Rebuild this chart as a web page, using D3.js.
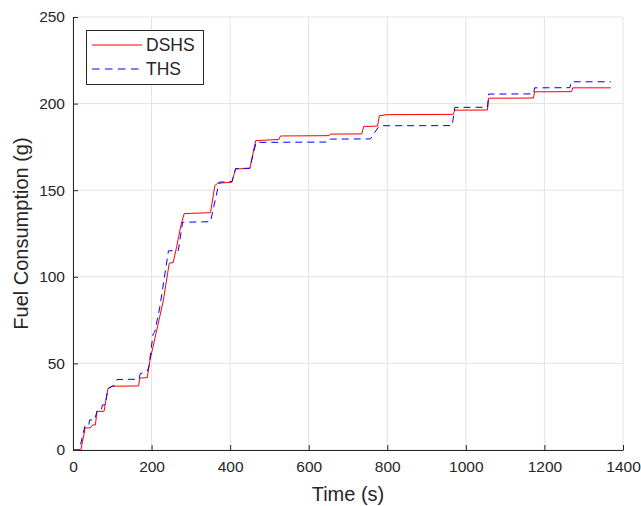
<!DOCTYPE html>
<html>
<head>
<meta charset="utf-8">
<script src="https://cdn.jsdelivr.net/npm/d3@7"></script>
<style>
  body { margin: 0; background: #fff; }
  text { font-family: "Liberation Sans", Arial, sans-serif; fill: #262626; }
</style>
</head>
<body>
<div id="chart"></div>
<script>
// DSHS fuel consumption, [time (s), fuel (g)]
const dshsData = [
  [0, 0], [20, 0], [31, 12.7], [45, 12.9], [50, 14.5], [57, 14.5], [61, 22.3], [79, 22.3],
  [89, 35.5], [100, 36.8], [167, 37], [170, 41.5], [189, 41.8], [196, 51.8], [213, 69],
  [230, 86.4], [245, 107.9], [255, 108.2], [264, 117.5], [275, 130], [283, 136.5], [350, 137],
  [361, 152.6], [368, 154], [404, 154.6], [414, 162.3], [450, 162.5], [465, 178.6], [524, 179.3],
  [528, 181.3], [652, 181.5], [655, 182.4], [735, 182.5], [740, 186.8], [775, 187], [780, 193],
  [800, 193.6], [968, 193.8], [972, 196.2], [1055, 196.3], [1058, 203.1], [1172, 203.2],
  [1175, 206.8], [1269, 206.9], [1272, 209.1], [1369, 209.1]
];

// THS fuel consumption, [time (s), fuel (g)]
const thsData = [
  [0, 0], [16, 0], [30, 13.6], [40, 13.8], [42, 17.3], [55, 17.5], [62, 23], [72, 23.2],
  [75, 26], [82, 26.2], [89, 35.5], [105, 37.4], [112, 40.7], [168, 40.9], [171, 44],
  [189, 45.5], [193, 48], [204, 67.2], [208, 68], [221, 82.5], [243, 115], [268, 115.2],
  [279, 131.5], [350, 131.8], [372, 154.6], [405, 155], [414, 162.5], [450, 162.7],
  [466, 177.6], [650, 177.8], [655, 179.5], [757, 179.6], [776, 186], [783, 187.2],
  [965, 187.3], [972, 197.8], [1055, 197.9], [1058, 205.5], [1172, 205.6], [1175, 209.1],
  [1265, 209.2], [1268, 212.6], [1369, 212.6]
];

const xTicks = [0, 200, 400, 600, 800, 1000, 1200, 1400];
const yTicks = [0, 50, 100, 150, 200, 250];
const seriesNames = ["DSHS", "THS"];

let width = 641;
let height = 506;
let margin = { top: 17, right: 18, bottom: 56, left: 73 };

let svg = d3.select("#chart")
  .append("svg")
  .attr("width", width)
  .attr("height", height);

let xScale = d3.scaleLinear()
  .domain([0, 1400])
  .range([margin.left, width - margin.right]);

let yScale = d3.scaleLinear()
  .domain([0, 250])
  .range([height - margin.bottom, margin.top]);

// grid
svg.append("g")
  .selectAll("line")
  .data(xTicks)
  .join("line")
  .attr("x1", d => xScale(d)).attr("x2", d => xScale(d))
  .attr("y1", yScale(0)).attr("y2", yScale(250))
  .attr("stroke", "#e3e3e3").attr("stroke-width", 1);

svg.append("g")
  .selectAll("line")
  .data(yTicks)
  .join("line")
  .attr("x1", xScale(0)).attr("x2", xScale(1400))
  .attr("y1", d => yScale(d)).attr("y2", d => yScale(d))
  .attr("stroke", "#e3e3e3").attr("stroke-width", 1);

// lines
let line = d3.line()
  .x(d => xScale(d[0]))
  .y(d => yScale(d[1]));

svg.append("path")
  .datum(dshsData)
  .attr("fill", "none")
  .attr("stroke", "#ff0000")
  .attr("stroke-width", 1)
  .attr("d", line);

svg.append("path")
  .datum(thsData)
  .attr("fill", "none")
  .attr("stroke", "#0000ff")
  .attr("stroke-width", 1)
  .attr("stroke-dasharray", "7,5")
  .attr("d", line);

// axes
function xAxis(g) {
  g.attr("transform", `translate(0, ${yScale(0)})`)
    .call(d3.axisBottom(xScale).tickValues(xTicks).tickFormat(d3.format("d"))
      .tickSizeInner(-5).tickSizeOuter(0).tickPadding(11))
    .attr("font-size", "15.5px")
    .attr("font-family", "Liberation Sans, Arial, sans-serif");
}

function yAxis(g) {
  g.attr("transform", `translate(${xScale(0)}, 0)`)
    .call(d3.axisLeft(yScale).tickValues(yTicks).tickFormat(d3.format("d"))
      .tickSizeInner(-5).tickSizeOuter(0).tickPadding(8))
    .attr("font-size", "15.5px")
    .attr("font-family", "Liberation Sans, Arial, sans-serif");
}

svg.append("g").call(xAxis);
svg.append("g").call(yAxis);
svg.selectAll(".domain, .tick line").attr("stroke", "#262626");
svg.selectAll(".tick text").attr("fill", "#262626");

// axis titles
svg.append("text")
  .attr("x", (xScale(0) + xScale(1400)) / 2)
  .attr("y", 501)
  .attr("text-anchor", "middle")
  .attr("font-size", "20px")
  .text("Time (s)");

svg.append("text")
  .attr("transform", `translate(28, ${(yScale(0) + yScale(250)) / 2}) rotate(-90)`)
  .attr("text-anchor", "middle")
  .attr("font-size", "20px")
  .text("Fuel Consumption (g)");

// legend
let legend = svg.append("g");
legend.append("rect")
  .attr("x", 86.5).attr("y", 30.5)
  .attr("width", 117).attr("height", 54)
  .attr("fill", "#fff")
  .attr("stroke", "#262626")
  .attr("stroke-width", 1);

let legendRows = legend.selectAll("g")
  .data(seriesNames)
  .join("g")
  .attr("transform", (d, i) => `translate(0, ${45 + i * 24})`);

legendRows.append("line")
  .attr("x1", 92).attr("x2", 142)
  .attr("stroke", (d, i) => i === 0 ? "#ff0000" : "#0000ff")
  .attr("stroke-width", 1)
  .attr("stroke-dasharray", (d, i) => i === 0 ? null : "7.5,5.5");

legendRows.append("text")
  .attr("x", 146)
  .attr("dy", "0.35em")
  .attr("font-size", "17.5px")
  .text(d => d);
</script>
</body>
</html>
